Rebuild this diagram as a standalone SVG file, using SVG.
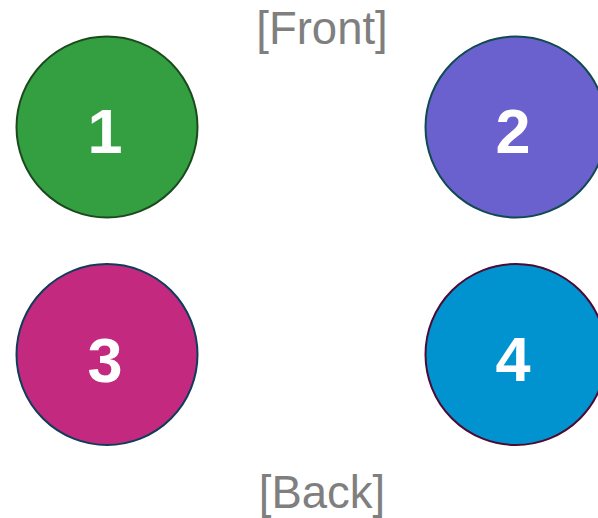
<svg xmlns="http://www.w3.org/2000/svg" width="598" height="518" viewBox="0 0 598 518">
<style>
.n{stroke-width:2}
.d{font-family:"Liberation Sans",Arial,sans-serif;font-weight:bold;font-size:63px;fill:#fff;text-anchor:middle}
.l{font-family:"Liberation Sans",Arial,sans-serif;font-size:45.5px;fill:#7f7f7f;text-anchor:middle}
</style>
<rect width="598" height="518" fill="#fff"/>
<text class="l" x="322" y="44">[Front]</text>
<text class="l" x="322" y="508">[Back]</text>
<g id="node1"><circle class="n" cx="107" cy="127" r="90.5" fill="#339f41" stroke="#1b4a1e"/><text class="d" x="105" y="153">1</text></g>
<g id="node2"><circle class="n" cx="516" cy="127" r="90.5" fill="#6a61cf" stroke="#0f4a4f"/><text class="d" x="513" y="153">2</text></g>
<g id="node3"><circle class="n" cx="107" cy="354.5" r="90.5" fill="#c2297f" stroke="#0e3d5c"/><text class="d" x="105" y="382">3</text></g>
<g id="node4"><circle class="n" cx="516" cy="354.5" r="90.5" fill="#0093d0" stroke="#4d0a33"/><text class="d" x="513" y="381">4</text></g>
<g id="connectors"></g>
</svg>
